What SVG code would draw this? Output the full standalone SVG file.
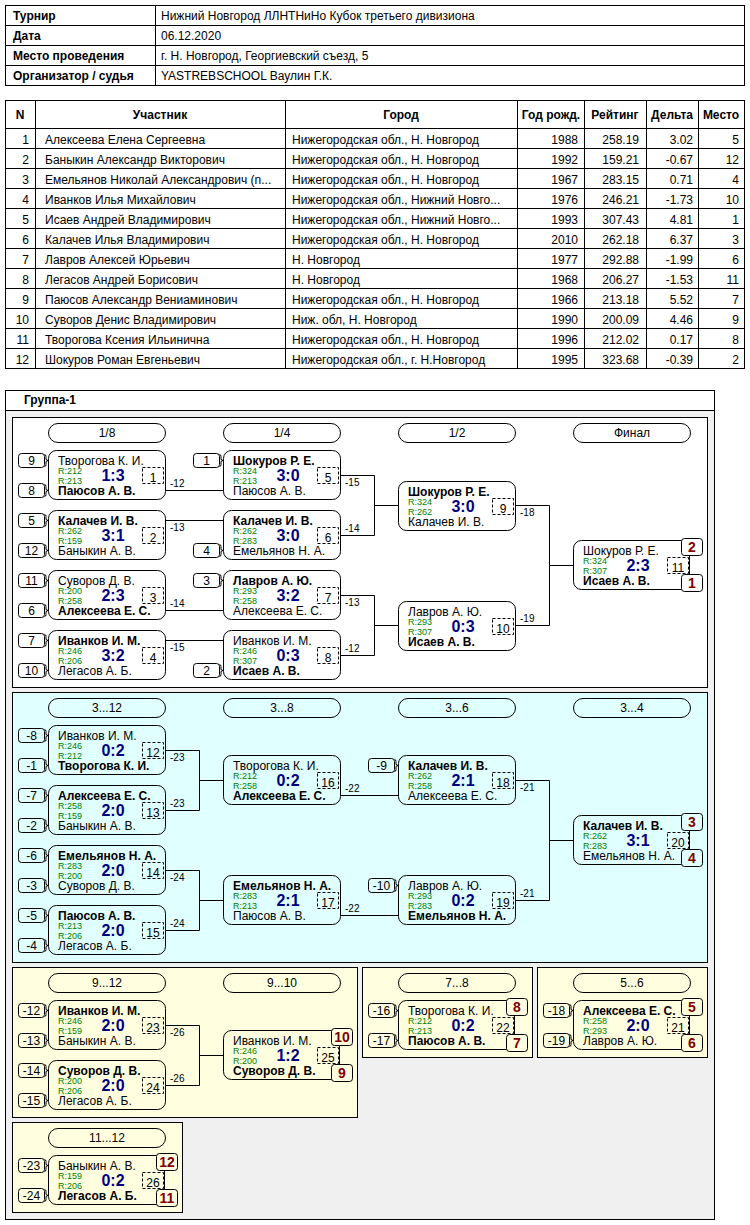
<svg xmlns="http://www.w3.org/2000/svg" width="750" height="1225" viewBox="0 0 750 1225">
<style>
text{font-family:"Liberation Sans",Arial,sans-serif;font-size:12px;fill:#000}
.b{font-weight:bold}
.c{text-anchor:middle}
.e{text-anchor:end}
.ln{stroke:#000;stroke-width:1;fill:none}
.mb{fill:none;stroke:#000}
.sd{fill:none;stroke:#000}
.dn{fill:none;stroke:#000;stroke-dasharray:3,2}
.pill{fill:none;stroke:#000}
.r{font-size:9px;fill:#008000}
.sc{font-size:16px;font-weight:bold;fill:#000080;text-anchor:middle}
.lb{font-size:10px}
.pl{font-size:14px;font-weight:bold;fill:#800000;text-anchor:middle}
.pb{stroke:#000}
</style>

<!-- top info table -->
<g id="info">
<rect x="5.5" y="5.5" width="739" height="80" fill="#fff" stroke="#000"/>
<path class="ln" d="M5.5 25.5H744.5M5.5 45.5H744.5M5.5 65.5H744.5M155.5 5.5V85.5"/>
<text class="b" x="13" y="20">Турнир</text>
<text class="b" x="13" y="40">Дата</text>
<text class="b" x="13" y="60">Место проведения</text>
<text class="b" x="13" y="80">Организатор / судья</text>
<text x="161" y="20">Нижний Новгород ЛЛНТНиНо Кубок третьего дивизиона</text>
<text x="161" y="40">06.12.2020</text>
<text x="161" y="60">г. Н. Новгород, Георгиевский съезд, 5</text>
<text x="161" y="80">YASTREBSCHOOL Ваулин Г.К.</text>
</g>

<!-- participants table -->
<g id="participants">
<rect x="5.5" y="100.5" width="739" height="268" fill="#fff" stroke="#000"/>
<path class="ln" d="M5.5 128.5H744.5M5.5 148.5H744.5M5.5 168.5H744.5M5.5 188.5H744.5M5.5 208.5H744.5M5.5 228.5H744.5M5.5 248.5H744.5M5.5 268.5H744.5M5.5 288.5H744.5M5.5 308.5H744.5M5.5 328.5H744.5M5.5 348.5H744.5M35.5 100.5V368.5M285.5 100.5V368.5M517.5 100.5V368.5M584.5 100.5V368.5M646.5 100.5V368.5M698.5 100.5V368.5"/>
<text class="b c" x="20" y="119">N</text>
<text class="b c" x="160" y="119">Участник</text>
<text class="b c" x="401" y="119">Город</text>
<text class="b c" x="551" y="119">Год рожд.</text>
<text class="b c" x="615" y="119">Рейтинг</text>
<text class="b c" x="672" y="119">Дельта</text>
<text class="b c" x="721" y="119">Место</text>
<g class="rows">
<text class="e" x="29" y="144">1</text><text x="45" y="144">Алексеева Елена Сергеевна</text><text x="292" y="144">Нижегородская обл., Н. Новгород</text><text class="e" x="578" y="144">1988</text><text class="e" x="639" y="144">258.19</text><text class="e" x="693" y="144">3.02</text><text class="e" x="739" y="144">5</text>
<text class="e" x="29" y="164">2</text><text x="45" y="164">Баныкин Александр Викторович</text><text x="292" y="164">Нижегородская обл., Н. Новгород</text><text class="e" x="578" y="164">1992</text><text class="e" x="639" y="164">159.21</text><text class="e" x="693" y="164">-0.67</text><text class="e" x="739" y="164">12</text>
<text class="e" x="29" y="184">3</text><text x="45" y="184">Емельянов Николай Александрович (n...</text><text x="292" y="184">Нижегородская обл., Н. Новгород</text><text class="e" x="578" y="184">1967</text><text class="e" x="639" y="184">283.15</text><text class="e" x="693" y="184">0.71</text><text class="e" x="739" y="184">4</text>
<text class="e" x="29" y="204">4</text><text x="45" y="204">Иванков Илья Михайлович</text><text x="292" y="204">Нижегородская обл., Нижний Новго...</text><text class="e" x="578" y="204">1976</text><text class="e" x="639" y="204">246.21</text><text class="e" x="693" y="204">-1.73</text><text class="e" x="739" y="204">10</text>
<text class="e" x="29" y="224">5</text><text x="45" y="224">Исаев Андрей Владимирович</text><text x="292" y="224">Нижегородская обл., Нижний Новго...</text><text class="e" x="578" y="224">1993</text><text class="e" x="639" y="224">307.43</text><text class="e" x="693" y="224">4.81</text><text class="e" x="739" y="224">1</text>
<text class="e" x="29" y="244">6</text><text x="45" y="244">Калачев Илья Владимирович</text><text x="292" y="244">Нижегородская обл., Н. Новгород</text><text class="e" x="578" y="244">2010</text><text class="e" x="639" y="244">262.18</text><text class="e" x="693" y="244">6.37</text><text class="e" x="739" y="244">3</text>
<text class="e" x="29" y="264">7</text><text x="45" y="264">Лавров Алексей Юрьевич</text><text x="292" y="264">Н. Новгород</text><text class="e" x="578" y="264">1977</text><text class="e" x="639" y="264">292.88</text><text class="e" x="693" y="264">-1.99</text><text class="e" x="739" y="264">6</text>
<text class="e" x="29" y="284">8</text><text x="45" y="284">Легасов Андрей Борисович</text><text x="292" y="284">Н. Новгород</text><text class="e" x="578" y="284">1968</text><text class="e" x="639" y="284">206.27</text><text class="e" x="693" y="284">-1.53</text><text class="e" x="739" y="284">11</text>
<text class="e" x="29" y="304">9</text><text x="45" y="304">Паюсов Александр Вениаминович</text><text x="292" y="304">Нижегородская обл., Н. Новгород</text><text class="e" x="578" y="304">1966</text><text class="e" x="639" y="304">213.18</text><text class="e" x="693" y="304">5.52</text><text class="e" x="739" y="304">7</text>
<text class="e" x="29" y="324">10</text><text x="45" y="324">Суворов Денис Владимирович</text><text x="292" y="324">Ниж. обл, Н. Новгород</text><text class="e" x="578" y="324">1990</text><text class="e" x="639" y="324">200.09</text><text class="e" x="693" y="324">4.46</text><text class="e" x="739" y="324">9</text>
<text class="e" x="29" y="344">11</text><text x="45" y="344">Творогова Ксения Ильинична</text><text x="292" y="344">Нижегородская обл., Н. Новгород</text><text class="e" x="578" y="344">1996</text><text class="e" x="639" y="344">212.02</text><text class="e" x="693" y="344">0.17</text><text class="e" x="739" y="344">8</text>
<text class="e" x="29" y="364">12</text><text x="45" y="364">Шокуров Роман Евгеньевич</text><text x="292" y="364">Нижегородская обл., г. Н.Новгород</text><text class="e" x="578" y="364">1995</text><text class="e" x="639" y="364">323.68</text><text class="e" x="693" y="364">-0.39</text><text class="e" x="739" y="364">2</text>
</g>
</g>

<!-- group frame -->
<g id="group-frame">
<rect x="5.5" y="390.5" width="709" height="829" fill="#f0f0f0" stroke="#000"/>
<rect x="6" y="391" width="708" height="19" fill="#fff"/>
<path class="ln" d="M5.5 410.5H714.5"/>
<text class="b" x="24" y="404">Группа-1</text>
</g>

<!-- panels -->
<g id="panels">
<rect x="12.5" y="417.5" width="695" height="270" fill="#fff" stroke="#000"/>
<rect x="12.5" y="692.5" width="695" height="270" fill="#e0ffff" stroke="#000"/>
<rect x="12.5" y="967.5" width="345" height="150" fill="#ffffe0" stroke="#000"/>
<rect x="362.5" y="967.5" width="170" height="90" fill="#ffffe0" stroke="#000"/>
<rect x="537.5" y="967.5" width="170" height="90" fill="#ffffe0" stroke="#000"/>
<rect x="12.5" y="1122.5" width="170" height="90" fill="#ffffe0" stroke="#000"/>
</g>

<!-- round headers -->
<g id="round-headers">
<g id="h-18"><rect class="pill" x="48.5" y="423.5" width="117" height="19" rx="9.5"/><text class="c" x="107" y="437">1/8</text></g>
<g id="h-14"><rect class="pill" x="223.5" y="423.5" width="117" height="19" rx="9.5"/><text class="c" x="282" y="437">1/4</text></g>
<g id="h-12"><rect class="pill" x="398.5" y="423.5" width="117" height="19" rx="9.5"/><text class="c" x="457" y="437">1/2</text></g>
<g id="h-final"><rect class="pill" x="573.5" y="423.5" width="117" height="19" rx="9.5"/><text class="c" x="632" y="437">Финал</text></g>
<g id="h-3-12"><rect class="pill" x="48.5" y="698.5" width="117" height="19" rx="9.5"/><text class="c" x="107" y="712">3...12</text></g>
<g id="h-3-8"><rect class="pill" x="223.5" y="698.5" width="117" height="19" rx="9.5"/><text class="c" x="282" y="712">3...8</text></g>
<g id="h-3-6"><rect class="pill" x="398.5" y="698.5" width="117" height="19" rx="9.5"/><text class="c" x="457" y="712">3...6</text></g>
<g id="h-3-4"><rect class="pill" x="573.5" y="698.5" width="117" height="19" rx="9.5"/><text class="c" x="632" y="712">3...4</text></g>
<g id="h-9-12"><rect class="pill" x="48.5" y="973.5" width="117" height="19" rx="9.5"/><text class="c" x="107" y="987">9...12</text></g>
<g id="h-9-10"><rect class="pill" x="223.5" y="973.5" width="117" height="19" rx="9.5"/><text class="c" x="282" y="987">9...10</text></g>
<g id="h-7-8"><rect class="pill" x="398.5" y="973.5" width="117" height="19" rx="9.5"/><text class="c" x="457" y="987">7...8</text></g>
<g id="h-5-6"><rect class="pill" x="573.5" y="973.5" width="117" height="19" rx="9.5"/><text class="c" x="632" y="987">5...6</text></g>
<g id="h-11-12"><rect class="pill" x="48.5" y="1128.5" width="117" height="19" rx="9.5"/><text class="c" x="107" y="1142">11...12</text></g>
</g>

<!-- connectors -->
<g id="connectors">
<path class="ln" d="M166 490.5H223M166 520.5H223M166 610.5H223M166 640.5H223
M341 475.5H374.5V535.5H341M374.5 505.5H398M341 595.5H374.5V655.5H341M374.5 625.5H398
M516 505.5H549.5V625.5H516M549.5 565.5H573
M166 750.5H199.5V810.5H166M199.5 780.5H223M166 870.5H199.5V930.5H166M199.5 900.5H223
M341 795.5H398M341 915.5H398
M516 780.5H549.5V900.5H516M549.5 840.5H573
M166 1025.5H199.5V1085.5H166M199.5 1055.5H223"/>
<g class="labels">
<text class="lb" x="170" y="487">-12</text>
<text class="lb" x="170" y="531">-13</text>
<text class="lb" x="170" y="607">-14</text>
<text class="lb" x="170" y="651">-15</text>
<text class="lb" x="345" y="486">-15</text>
<text class="lb" x="345" y="532">-14</text>
<text class="lb" x="345" y="606">-13</text>
<text class="lb" x="345" y="652">-12</text>
<text class="lb" x="520" y="516">-18</text>
<text class="lb" x="520" y="622">-19</text>
<text class="lb" x="170" y="761">-23</text>
<text class="lb" x="170" y="807">-23</text>
<text class="lb" x="170" y="881">-24</text>
<text class="lb" x="170" y="927">-24</text>
<text class="lb" x="345" y="792">-22</text>
<text class="lb" x="345" y="912">-22</text>
<text class="lb" x="520" y="791">-21</text>
<text class="lb" x="520" y="897">-21</text>
<text class="lb" x="170" y="1036">-26</text>
<text class="lb" x="170" y="1082">-26</text>
</g>
</g>

<!-- seeds: box at (x,y), brace to match box -->
<g id="seeds">
<defs>
<g id="sbr"><path class="ln" d="M26.5 1.5q1.5 0 1.5 2v3l2 1l-2 1v3q0 2-1.5 2"/></g>
</defs>
<g id="seed-9" transform="translate(18,453)"><rect class="sd" x=".5" y=".5" width="26" height="14" rx="3"/><use href="#sbr"/><text class="c" x="13.5" y="12">9</text></g>
<g id="seed-8" transform="translate(18,483)"><rect class="sd" x=".5" y=".5" width="26" height="14" rx="3"/><use href="#sbr"/><text class="c" x="13.5" y="12">8</text></g>
<g id="seed-5" transform="translate(18,513)"><rect class="sd" x=".5" y=".5" width="26" height="14" rx="3"/><use href="#sbr"/><text class="c" x="13.5" y="12">5</text></g>
<g id="seed-12" transform="translate(18,543)"><rect class="sd" x=".5" y=".5" width="26" height="14" rx="3"/><use href="#sbr"/><text class="c" x="13.5" y="12">12</text></g>
<g id="seed-11" transform="translate(18,573)"><rect class="sd" x=".5" y=".5" width="26" height="14" rx="3"/><use href="#sbr"/><text class="c" x="13.5" y="12">11</text></g>
<g id="seed-6" transform="translate(18,603)"><rect class="sd" x=".5" y=".5" width="26" height="14" rx="3"/><use href="#sbr"/><text class="c" x="13.5" y="12">6</text></g>
<g id="seed-7" transform="translate(18,633)"><rect class="sd" x=".5" y=".5" width="26" height="14" rx="3"/><use href="#sbr"/><text class="c" x="13.5" y="12">7</text></g>
<g id="seed-10" transform="translate(18,663)"><rect class="sd" x=".5" y=".5" width="26" height="14" rx="3"/><use href="#sbr"/><text class="c" x="13.5" y="12">10</text></g>
<g id="seed-1" transform="translate(193,453)"><rect class="sd" x=".5" y=".5" width="26" height="14" rx="3"/><use href="#sbr"/><text class="c" x="13.5" y="12">1</text></g>
<g id="seed-4" transform="translate(193,543)"><rect class="sd" x=".5" y=".5" width="26" height="14" rx="3"/><use href="#sbr"/><text class="c" x="13.5" y="12">4</text></g>
<g id="seed-3" transform="translate(193,573)"><rect class="sd" x=".5" y=".5" width="26" height="14" rx="3"/><use href="#sbr"/><text class="c" x="13.5" y="12">3</text></g>
<g id="seed-2" transform="translate(193,663)"><rect class="sd" x=".5" y=".5" width="26" height="14" rx="3"/><use href="#sbr"/><text class="c" x="13.5" y="12">2</text></g>
<g id="seed-m8" transform="translate(18,728)"><rect class="sd" x=".5" y=".5" width="26" height="14" rx="3"/><use href="#sbr"/><text class="c" x="13.5" y="12">-8</text></g>
<g id="seed-m1" transform="translate(18,758)"><rect class="sd" x=".5" y=".5" width="26" height="14" rx="3"/><use href="#sbr"/><text class="c" x="13.5" y="12">-1</text></g>
<g id="seed-m7" transform="translate(18,788)"><rect class="sd" x=".5" y=".5" width="26" height="14" rx="3"/><use href="#sbr"/><text class="c" x="13.5" y="12">-7</text></g>
<g id="seed-m2" transform="translate(18,818)"><rect class="sd" x=".5" y=".5" width="26" height="14" rx="3"/><use href="#sbr"/><text class="c" x="13.5" y="12">-2</text></g>
<g id="seed-m6" transform="translate(18,848)"><rect class="sd" x=".5" y=".5" width="26" height="14" rx="3"/><use href="#sbr"/><text class="c" x="13.5" y="12">-6</text></g>
<g id="seed-m3" transform="translate(18,878)"><rect class="sd" x=".5" y=".5" width="26" height="14" rx="3"/><use href="#sbr"/><text class="c" x="13.5" y="12">-3</text></g>
<g id="seed-m5" transform="translate(18,908)"><rect class="sd" x=".5" y=".5" width="26" height="14" rx="3"/><use href="#sbr"/><text class="c" x="13.5" y="12">-5</text></g>
<g id="seed-m4" transform="translate(18,938)"><rect class="sd" x=".5" y=".5" width="26" height="14" rx="3"/><use href="#sbr"/><text class="c" x="13.5" y="12">-4</text></g>
<g id="seed-m9" transform="translate(368,758)"><rect class="sd" x=".5" y=".5" width="26" height="14" rx="3"/><use href="#sbr"/><text class="c" x="13.5" y="12">-9</text></g>
<g id="seed-m10" transform="translate(368,878)"><rect class="sd" x=".5" y=".5" width="26" height="14" rx="3"/><use href="#sbr"/><text class="c" x="13.5" y="12">-10</text></g>
<g id="seed-m12" transform="translate(18,1003)"><rect class="sd" x=".5" y=".5" width="26" height="14" rx="3"/><use href="#sbr"/><text class="c" x="13.5" y="12">-12</text></g>
<g id="seed-m13" transform="translate(18,1033)"><rect class="sd" x=".5" y=".5" width="26" height="14" rx="3"/><use href="#sbr"/><text class="c" x="13.5" y="12">-13</text></g>
<g id="seed-m14" transform="translate(18,1063)"><rect class="sd" x=".5" y=".5" width="26" height="14" rx="3"/><use href="#sbr"/><text class="c" x="13.5" y="12">-14</text></g>
<g id="seed-m15" transform="translate(18,1093)"><rect class="sd" x=".5" y=".5" width="26" height="14" rx="3"/><use href="#sbr"/><text class="c" x="13.5" y="12">-15</text></g>
<g id="seed-m16" transform="translate(368,1003)"><rect class="sd" x=".5" y=".5" width="26" height="14" rx="3"/><use href="#sbr"/><text class="c" x="13.5" y="12">-16</text></g>
<g id="seed-m17" transform="translate(368,1033)"><rect class="sd" x=".5" y=".5" width="26" height="14" rx="3"/><use href="#sbr"/><text class="c" x="13.5" y="12">-17</text></g>
<g id="seed-m18" transform="translate(543,1003)"><rect class="sd" x=".5" y=".5" width="26" height="14" rx="3"/><use href="#sbr"/><text class="c" x="13.5" y="12">-18</text></g>
<g id="seed-m19" transform="translate(543,1033)"><rect class="sd" x=".5" y=".5" width="26" height="14" rx="3"/><use href="#sbr"/><text class="c" x="13.5" y="12">-19</text></g>
<g id="seed-m23" transform="translate(18,1158)"><rect class="sd" x=".5" y=".5" width="26" height="14" rx="3"/><use href="#sbr"/><text class="c" x="13.5" y="12">-23</text></g>
<g id="seed-m24" transform="translate(18,1188)"><rect class="sd" x=".5" y=".5" width="26" height="14" rx="3"/><use href="#sbr"/><text class="c" x="13.5" y="12">-24</text></g>
</g>

<!-- matches -->
<g id="matches">
<g id="match-1" transform="translate(48,450)"><rect class="mb" x=".5" y=".5" width="117" height="49" rx="8"/><text x="10" y="15">Творогова К. И.</text><text class="r" x="10" y="23.5">R:212</text><text class="r" x="10" y="34">R:213</text><text class="b" x="10" y="44.5">Паюсов А. В.</text><text class="sc" x="65" y="31">1:3</text><rect class="dn" x="94.5" y="17.5" width="21" height="16"/><text class="c" x="105" y="31.5">1</text></g>
<g id="match-2" transform="translate(48,510)"><rect class="mb" x=".5" y=".5" width="117" height="49" rx="8"/><text class="b" x="10" y="15">Калачев И. В.</text><text class="r" x="10" y="23.5">R:262</text><text class="r" x="10" y="34">R:159</text><text x="10" y="44.5">Баныкин А. В.</text><text class="sc" x="65" y="31">3:1</text><rect class="dn" x="94.5" y="17.5" width="21" height="16"/><text class="c" x="105" y="31.5">2</text></g>
<g id="match-3" transform="translate(48,570)"><rect class="mb" x=".5" y=".5" width="117" height="49" rx="8"/><text x="10" y="15">Суворов Д. В.</text><text class="r" x="10" y="23.5">R:200</text><text class="r" x="10" y="34">R:258</text><text class="b" x="10" y="44.5">Алексеева Е. С.</text><text class="sc" x="65" y="31">2:3</text><rect class="dn" x="94.5" y="17.5" width="21" height="16"/><text class="c" x="105" y="31.5">3</text></g>
<g id="match-4" transform="translate(48,630)"><rect class="mb" x=".5" y=".5" width="117" height="49" rx="8"/><text class="b" x="10" y="15">Иванков И. М.</text><text class="r" x="10" y="23.5">R:246</text><text class="r" x="10" y="34">R:206</text><text x="10" y="44.5">Легасов А. Б.</text><text class="sc" x="65" y="31">3:2</text><rect class="dn" x="94.5" y="17.5" width="21" height="16"/><text class="c" x="105" y="31.5">4</text></g>
<g id="match-5" transform="translate(223,450)"><rect class="mb" x=".5" y=".5" width="117" height="49" rx="8"/><text class="b" x="10" y="15">Шокуров Р. Е.</text><text class="r" x="10" y="23.5">R:324</text><text class="r" x="10" y="34">R:213</text><text x="10" y="44.5">Паюсов А. В.</text><text class="sc" x="65" y="31">3:0</text><rect class="dn" x="94.5" y="17.5" width="21" height="16"/><text class="c" x="105" y="31.5">5</text></g>
<g id="match-6" transform="translate(223,510)"><rect class="mb" x=".5" y=".5" width="117" height="49" rx="8"/><text class="b" x="10" y="15">Калачев И. В.</text><text class="r" x="10" y="23.5">R:262</text><text class="r" x="10" y="34">R:283</text><text x="10" y="44.5">Емельянов Н. А.</text><text class="sc" x="65" y="31">3:0</text><rect class="dn" x="94.5" y="17.5" width="21" height="16"/><text class="c" x="105" y="31.5">6</text></g>
<g id="match-7" transform="translate(223,570)"><rect class="mb" x=".5" y=".5" width="117" height="49" rx="8"/><text class="b" x="10" y="15">Лавров А. Ю.</text><text class="r" x="10" y="23.5">R:293</text><text class="r" x="10" y="34">R:258</text><text x="10" y="44.5">Алексеева Е. С.</text><text class="sc" x="65" y="31">3:2</text><rect class="dn" x="94.5" y="17.5" width="21" height="16"/><text class="c" x="105" y="31.5">7</text></g>
<g id="match-8" transform="translate(223,630)"><rect class="mb" x=".5" y=".5" width="117" height="49" rx="8"/><text x="10" y="15">Иванков И. М.</text><text class="r" x="10" y="23.5">R:246</text><text class="r" x="10" y="34">R:307</text><text class="b" x="10" y="44.5">Исаев А. В.</text><text class="sc" x="65" y="31">0:3</text><rect class="dn" x="94.5" y="17.5" width="21" height="16"/><text class="c" x="105" y="31.5">8</text></g>
<g id="match-9" transform="translate(398,481)"><rect class="mb" x=".5" y=".5" width="117" height="49" rx="8"/><text class="b" x="10" y="15">Шокуров Р. Е.</text><text class="r" x="10" y="23.5">R:324</text><text class="r" x="10" y="34">R:262</text><text x="10" y="44.5">Калачев И. В.</text><text class="sc" x="65" y="31">3:0</text><rect class="dn" x="94.5" y="17.5" width="21" height="16"/><text class="c" x="105" y="31.5">9</text></g>
<g id="match-10" transform="translate(398,601)"><rect class="mb" x=".5" y=".5" width="117" height="49" rx="8"/><text x="10" y="15">Лавров А. Ю.</text><text class="r" x="10" y="23.5">R:293</text><text class="r" x="10" y="34">R:307</text><text class="b" x="10" y="44.5">Исаев А. В.</text><text class="sc" x="65" y="31">0:3</text><rect class="dn" x="94.5" y="17.5" width="21" height="16"/><text class="c" x="105" y="31.5">10</text></g>
<g id="match-11" transform="translate(573,540)"><rect class="mb" x=".5" y=".5" width="116" height="49" rx="8"/><text x="10" y="15">Шокуров Р. Е.</text><text class="r" x="10" y="23.5">R:324</text><text class="r" x="10" y="34">R:307</text><text class="b" x="10" y="44.5">Исаев А. В.</text><text class="sc" x="65" y="31">2:3</text><rect class="dn" x="94.5" y="17.5" width="21" height="16"/><text class="c" x="105" y="31.5">11</text>
<rect class="pb" fill="#fff" x="108.5" y="-1.5" width="21" height="17" rx="3"/><text class="pl" x="119" y="12">2</text><rect class="pb" fill="#fff" x="108.5" y="34.5" width="21" height="17" rx="3"/><text class="pl" x="119" y="48">1</text></g>

<g id="match-12" transform="translate(48,725)"><rect class="mb" x=".5" y=".5" width="117" height="49" rx="8"/><text x="10" y="15">Иванков И. М.</text><text class="r" x="10" y="23.5">R:246</text><text class="r" x="10" y="34">R:212</text><text class="b" x="10" y="44.5">Творогова К. И.</text><text class="sc" x="65" y="31">0:2</text><rect class="dn" x="94.5" y="17.5" width="21" height="16"/><text class="c" x="105" y="31.5">12</text></g>
<g id="match-13" transform="translate(48,785)"><rect class="mb" x=".5" y=".5" width="117" height="49" rx="8"/><text class="b" x="10" y="15">Алексеева Е. С.</text><text class="r" x="10" y="23.5">R:258</text><text class="r" x="10" y="34">R:159</text><text x="10" y="44.5">Баныкин А. В.</text><text class="sc" x="65" y="31">2:0</text><rect class="dn" x="94.5" y="17.5" width="21" height="16"/><text class="c" x="105" y="31.5">13</text></g>
<g id="match-14" transform="translate(48,845)"><rect class="mb" x=".5" y=".5" width="117" height="49" rx="8"/><text class="b" x="10" y="15">Емельянов Н. А.</text><text class="r" x="10" y="23.5">R:283</text><text class="r" x="10" y="34">R:200</text><text x="10" y="44.5">Суворов Д. В.</text><text class="sc" x="65" y="31">2:0</text><rect class="dn" x="94.5" y="17.5" width="21" height="16"/><text class="c" x="105" y="31.5">14</text></g>
<g id="match-15" transform="translate(48,905)"><rect class="mb" x=".5" y=".5" width="117" height="49" rx="8"/><text class="b" x="10" y="15">Паюсов А. В.</text><text class="r" x="10" y="23.5">R:213</text><text class="r" x="10" y="34">R:206</text><text x="10" y="44.5">Легасов А. Б.</text><text class="sc" x="65" y="31">2:0</text><rect class="dn" x="94.5" y="17.5" width="21" height="16"/><text class="c" x="105" y="31.5">15</text></g>
<g id="match-16" transform="translate(223,755)"><rect class="mb" x=".5" y=".5" width="117" height="49" rx="8"/><text x="10" y="15">Творогова К. И.</text><text class="r" x="10" y="23.5">R:212</text><text class="r" x="10" y="34">R:258</text><text class="b" x="10" y="44.5">Алексеева Е. С.</text><text class="sc" x="65" y="31">0:2</text><rect class="dn" x="94.5" y="17.5" width="21" height="16"/><text class="c" x="105" y="31.5">16</text></g>
<g id="match-17" transform="translate(223,875)"><rect class="mb" x=".5" y=".5" width="117" height="49" rx="8"/><text class="b" x="10" y="15">Емельянов Н. А.</text><text class="r" x="10" y="23.5">R:283</text><text class="r" x="10" y="34">R:213</text><text x="10" y="44.5">Паюсов А. В.</text><text class="sc" x="65" y="31">2:1</text><rect class="dn" x="94.5" y="17.5" width="21" height="16"/><text class="c" x="105" y="31.5">17</text></g>
<g id="match-18" transform="translate(398,755)"><rect class="mb" x=".5" y=".5" width="117" height="49" rx="8"/><text class="b" x="10" y="15">Калачев И. В.</text><text class="r" x="10" y="23.5">R:262</text><text class="r" x="10" y="34">R:258</text><text x="10" y="44.5">Алексеева Е. С.</text><text class="sc" x="65" y="31">2:1</text><rect class="dn" x="94.5" y="17.5" width="21" height="16"/><text class="c" x="105" y="31.5">18</text></g>
<g id="match-19" transform="translate(398,875)"><rect class="mb" x=".5" y=".5" width="117" height="49" rx="8"/><text x="10" y="15">Лавров А. Ю.</text><text class="r" x="10" y="23.5">R:293</text><text class="r" x="10" y="34">R:283</text><text class="b" x="10" y="44.5">Емельянов Н. А.</text><text class="sc" x="65" y="31">0:2</text><rect class="dn" x="94.5" y="17.5" width="21" height="16"/><text class="c" x="105" y="31.5">19</text></g>
<g id="match-20" transform="translate(573,815)"><rect class="mb" x=".5" y=".5" width="116" height="49" rx="8"/><text class="b" x="10" y="15">Калачев И. В.</text><text class="r" x="10" y="23.5">R:262</text><text class="r" x="10" y="34">R:283</text><text x="10" y="44.5">Емельянов Н. А.</text><text class="sc" x="65" y="31">3:1</text><rect class="dn" x="94.5" y="17.5" width="21" height="16"/><text class="c" x="105" y="31.5">20</text>
<rect class="pb" fill="#e0ffff" x="108.5" y="-1.5" width="21" height="17" rx="3"/><text class="pl" x="119" y="12">3</text><rect class="pb" fill="#e0ffff" x="108.5" y="34.5" width="21" height="17" rx="3"/><text class="pl" x="119" y="48">4</text></g>

<g id="match-23" transform="translate(48,1000)"><rect class="mb" x=".5" y=".5" width="117" height="49" rx="8"/><text class="b" x="10" y="15">Иванков И. М.</text><text class="r" x="10" y="23.5">R:246</text><text class="r" x="10" y="34">R:159</text><text x="10" y="44.5">Баныкин А. В.</text><text class="sc" x="65" y="31">2:0</text><rect class="dn" x="94.5" y="17.5" width="21" height="16"/><text class="c" x="105" y="31.5">23</text></g>
<g id="match-24" transform="translate(48,1060)"><rect class="mb" x=".5" y=".5" width="117" height="49" rx="8"/><text class="b" x="10" y="15">Суворов Д. В.</text><text class="r" x="10" y="23.5">R:200</text><text class="r" x="10" y="34">R:206</text><text x="10" y="44.5">Легасов А. Б.</text><text class="sc" x="65" y="31">2:0</text><rect class="dn" x="94.5" y="17.5" width="21" height="16"/><text class="c" x="105" y="31.5">24</text></g>
<g id="match-25" transform="translate(223,1030)"><rect class="mb" x=".5" y=".5" width="116" height="49" rx="8"/><text x="10" y="15">Иванков И. М.</text><text class="r" x="10" y="23.5">R:246</text><text class="r" x="10" y="34">R:200</text><text class="b" x="10" y="44.5">Суворов Д. В.</text><text class="sc" x="65" y="31">1:2</text><rect class="dn" x="94.5" y="17.5" width="21" height="16"/><text class="c" x="105" y="31.5">25</text>
<rect class="pb" fill="#ffffe0" x="108.5" y="-1.5" width="21" height="17" rx="3"/><text class="pl" x="119" y="12">10</text><rect class="pb" fill="#ffffe0" x="108.5" y="34.5" width="21" height="17" rx="3"/><text class="pl" x="119" y="48">9</text></g>
<g id="match-22" transform="translate(398,1000)"><rect class="mb" x=".5" y=".5" width="116" height="49" rx="8"/><text x="10" y="15">Творогова К. И.</text><text class="r" x="10" y="23.5">R:212</text><text class="r" x="10" y="34">R:213</text><text class="b" x="10" y="44.5">Паюсов А. В.</text><text class="sc" x="65" y="31">0:2</text><rect class="dn" x="94.5" y="17.5" width="21" height="16"/><text class="c" x="105" y="31.5">22</text>
<rect class="pb" fill="#ffffe0" x="108.5" y="-1.5" width="21" height="17" rx="3"/><text class="pl" x="119" y="12">8</text><rect class="pb" fill="#ffffe0" x="108.5" y="34.5" width="21" height="17" rx="3"/><text class="pl" x="119" y="48">7</text></g>
<g id="match-21" transform="translate(573,1000)"><rect class="mb" x=".5" y=".5" width="116" height="49" rx="8"/><text class="b" x="10" y="15">Алексеева Е. С.</text><text class="r" x="10" y="23.5">R:258</text><text class="r" x="10" y="34">R:293</text><text x="10" y="44.5">Лавров А. Ю.</text><text class="sc" x="65" y="31">2:0</text><rect class="dn" x="94.5" y="17.5" width="21" height="16"/><text class="c" x="105" y="31.5">21</text>
<rect class="pb" fill="#ffffe0" x="108.5" y="-1.5" width="21" height="17" rx="3"/><text class="pl" x="119" y="12">5</text><rect class="pb" fill="#ffffe0" x="108.5" y="34.5" width="21" height="17" rx="3"/><text class="pl" x="119" y="48">6</text></g>
<g id="match-26" transform="translate(48,1155)"><rect class="mb" x=".5" y=".5" width="116" height="49" rx="8"/><text x="10" y="15">Баныкин А. В.</text><text class="r" x="10" y="23.5">R:159</text><text class="r" x="10" y="34">R:206</text><text class="b" x="10" y="44.5">Легасов А. Б.</text><text class="sc" x="65" y="31">0:2</text><rect class="dn" x="94.5" y="17.5" width="21" height="16"/><text class="c" x="105" y="31.5">26</text>
<rect class="pb" fill="#ffffe0" x="108.5" y="-1.5" width="21" height="17" rx="3"/><text class="pl" x="119" y="12">12</text><rect class="pb" fill="#ffffe0" x="108.5" y="34.5" width="21" height="17" rx="3"/><text class="pl" x="119" y="48">11</text></g>
</g>
</svg>
